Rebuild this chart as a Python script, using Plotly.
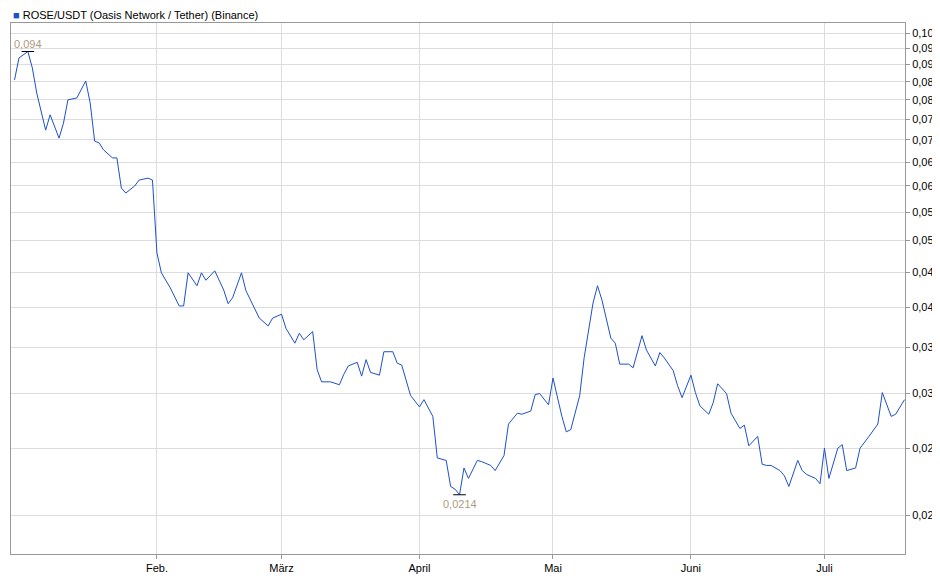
import math
import pandas as pd
import plotly.graph_objects as go

# day offsets from 2025-01-01 and closing prices (USDT)
day_offsets = [-1, 0, 2, 3, 4, 5, 6, 7, 9, 10, 11, 13, 15, 16, 17, 18, 19, 21, 22, 23, 24, 26, 27, 29, 30,
               31, 32, 34, 36, 37, 38, 40, 41, 42, 44, 46, 47, 48, 50, 51, 53, 54, 56, 57, 59, 60, 62, 63, 64,
               66, 67, 68, 70, 72, 73, 74, 76, 77, 78, 79, 81, 82, 84, 85, 86, 88, 90, 91, 93, 94, 96, 97, 98,
               99, 100, 101, 103, 104, 106, 107, 109, 110, 112, 113, 115, 116, 117, 119, 120, 122, 123, 124,
               126, 127, 129, 130, 131, 133, 134, 135, 137, 138, 140, 141, 143, 144, 145, 147, 148, 149, 151,
               152, 153, 155, 156, 157, 159, 160, 162, 163, 164, 166, 167, 168, 169, 171, 172, 173, 175, 176,
               177, 179, 180, 181, 182, 184, 185, 186, 188, 189, 191, 193, 194, 196, 197, 199]
prices = [0.0855, 0.0920, 0.0940, 0.0890, 0.0818, 0.0766, 0.0723, 0.0761, 0.0704, 0.0740, 0.0800, 0.0805,
          0.0852, 0.0792, 0.0697, 0.0693, 0.0677, 0.0659, 0.0659, 0.0596, 0.0586, 0.0600, 0.0612, 0.0616,
          0.0612, 0.0480, 0.0449, 0.0427, 0.0402, 0.0402, 0.0449, 0.0430, 0.0449, 0.0438, 0.0452, 0.0424,
          0.0405, 0.0413, 0.0449, 0.0423, 0.0397, 0.0386, 0.0376, 0.0386, 0.0391, 0.0373, 0.0355, 0.0367,
          0.0359, 0.0369, 0.0325, 0.0312, 0.0312, 0.0309, 0.0320, 0.0329, 0.0333, 0.0318, 0.0336, 0.0322,
          0.0319, 0.0345, 0.0345, 0.0332, 0.0330, 0.0298, 0.0287, 0.0294, 0.0278, 0.0242, 0.0240, 0.0220,
          0.0218, 0.0214, 0.0234, 0.0226, 0.0240, 0.0239, 0.0236, 0.0232, 0.0244, 0.0271, 0.0281, 0.0280,
          0.0283, 0.0299, 0.0300, 0.0289, 0.0316, 0.0278, 0.0264, 0.0266, 0.0298, 0.0338, 0.0406, 0.0430,
          0.0410, 0.0361, 0.0355, 0.0331, 0.0331, 0.0327, 0.0364, 0.0347, 0.0329, 0.0344, 0.0338, 0.0324,
          0.0308, 0.0296, 0.0319, 0.0301, 0.0288, 0.0280, 0.0291, 0.0310, 0.0300, 0.0281, 0.0267, 0.0270,
          0.0252, 0.0260, 0.0237, 0.0236, 0.0236, 0.0232, 0.0228, 0.0220, 0.0240, 0.0232, 0.0229, 0.0226,
          0.0222, 0.0250, 0.0226, 0.0250, 0.0253, 0.0232, 0.0234, 0.0250, 0.0260, 0.0271, 0.0301, 0.0278,
          0.0280, 0.0294]

y_ticks = [0.020, 0.025, 0.030, 0.035, 0.040, 0.045, 0.050, 0.055, 0.060, 0.065,
           0.070, 0.075, 0.080, 0.085, 0.090, 0.095, 0.100]
month_ticks = ["2025-02-01", "2025-03-01", "2025-04-01", "2025-05-01", "2025-06-01", "2025-07-01"]
month_labels = ["Feb.", "März", "April", "Mai", "Juni", "Juli"]

start = pd.Timestamp("2025-01-01")
dates = [start + pd.Timedelta(days=d) for d in day_offsets]

i_max = prices.index(max(prices))
i_min = prices.index(min(prices))

fig = go.Figure()
fig.add_trace(go.Scatter(x=dates, y=prices, mode="lines", line=dict(color="#1e50c8", width=1),
                         hoverinfo="x+y"))
# high / low markers
fig.add_trace(go.Scatter(x=[dates[i_max], dates[i_min]], y=[prices[i_max], prices[i_min]], mode="markers",
                         marker=dict(symbol="line-ew", size=9, line=dict(color="black", width=1)),
                         hoverinfo="skip"))

fmt = lambda v: f"{v:.3f}".replace(".", ",")
# annotation y on a log axis is given in log10 units
fig.add_annotation(x=dates[i_max], y=math.log10(prices[i_max]), text=fmt(prices[i_max]), showarrow=False,
                   yanchor="bottom", yshift=0, font=dict(color="#b09a80", size=11))
fig.add_annotation(x=dates[i_min], y=math.log10(prices[i_min]), text=f"{prices[i_min]:.4f}".replace(".", ","),
                   showarrow=False, yanchor="top", yshift=-1, font=dict(color="#b09a80", size=11))
fig.add_annotation(x=0, y=1, xref="paper", yref="paper", xanchor="left", yanchor="bottom", yshift=0,
                   text="<span style='color:#1e50c8'>■</span> ROSE/USDT (Oasis Network / Tether) (Binance)",
                   showarrow=False, font=dict(size=11, color="black"))

fig.update_layout(
    width=940, height=579, margin=dict(l=3, r=43, t=15, b=33, autoexpand=False),
    paper_bgcolor="white", plot_bgcolor="white", showlegend=False,
    font=dict(family="Liberation Sans, Arial", size=11, color="black"),
)
fig.update_xaxes(range=[start - pd.Timedelta(hours=43), start + pd.Timedelta(hours=199.1 * 24)],
                 tickvals=month_ticks, ticktext=month_labels, showgrid=True, gridcolor="#dddddd",
                 showline=True, linecolor="#999999", mirror=True, ticks="outside", ticklen=4,
                 tickcolor="#999999", automargin=False)
fig.update_yaxes(type="log", range=[-1.7555, -0.9855], side="right", tickvals=y_ticks,
                 ticktext=[fmt(v) for v in y_ticks], showgrid=True, gridcolor="#dddddd",
                 showline=True, linecolor="#999999", mirror=True, ticks="outside", ticklen=4,
                 tickcolor="#999999", automargin=False)

fig.write_html("out.html")
